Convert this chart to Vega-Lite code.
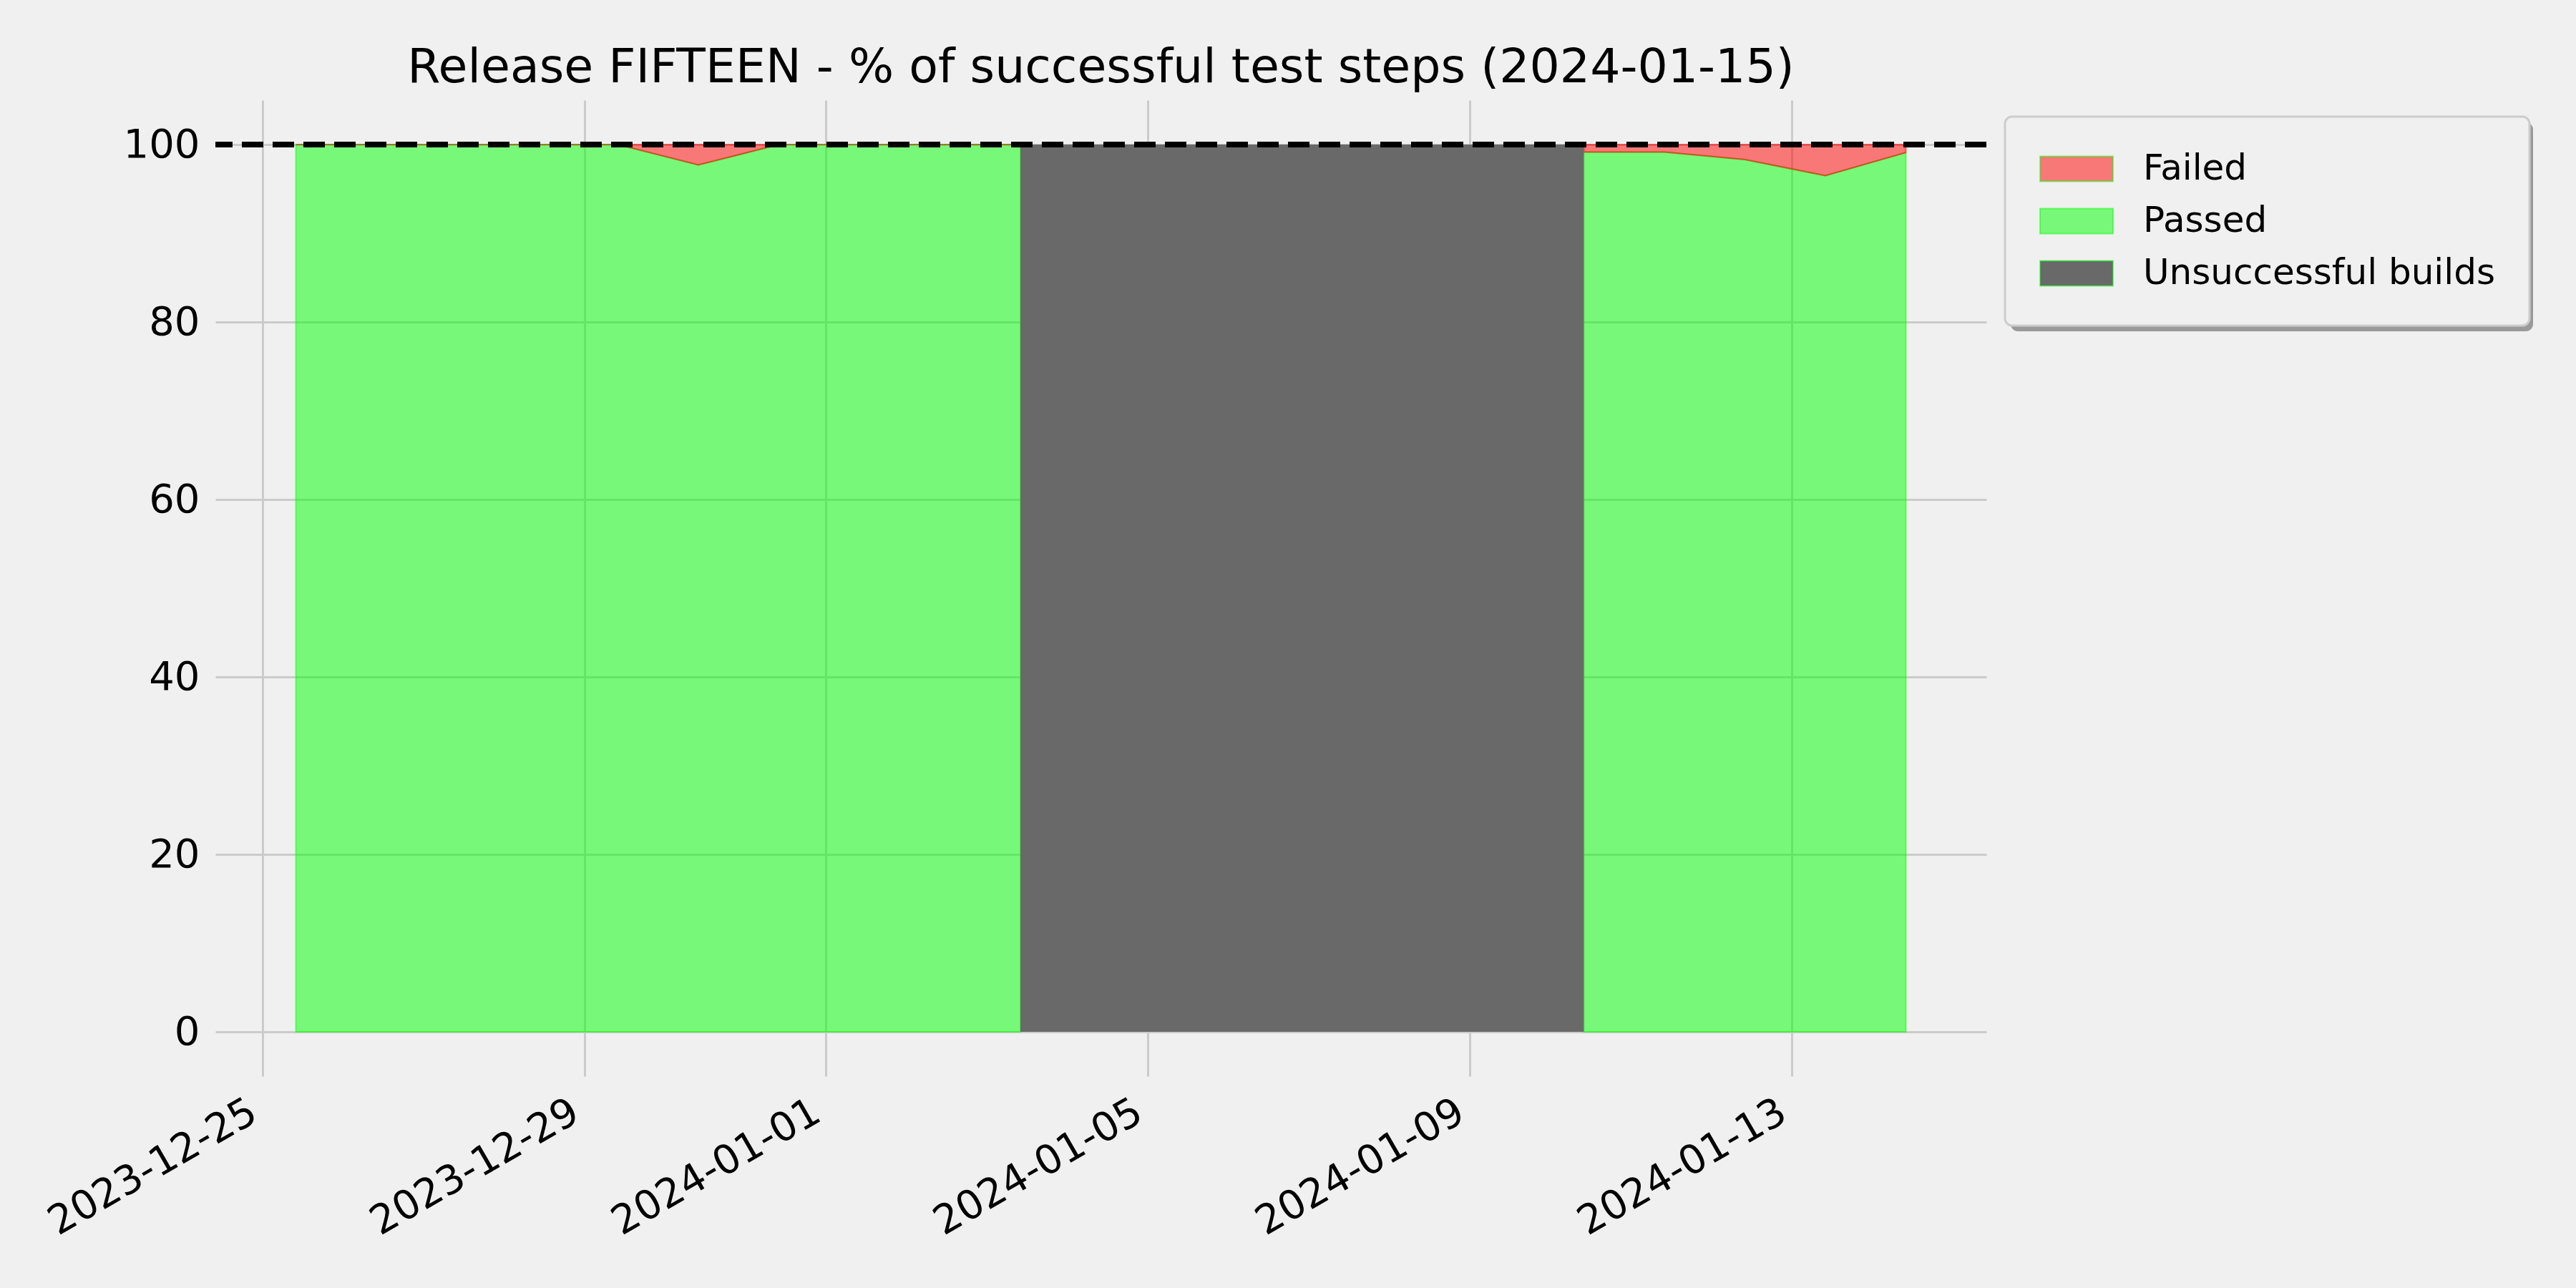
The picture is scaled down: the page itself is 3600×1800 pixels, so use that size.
{
  "$schema": "https://vega.github.io/schema/vega-lite/v6.json",
  "width": 2475,
  "height": 1364,
  "autosize": {"type": "none"},
  "padding": {"left": 301, "top": 140, "right": 824, "bottom": 296},
  "background": "#f0f0f0",
  "title": {
    "text": "Release FIFTEEN - % of successful test steps (2024-01-15)",
    "fontSize": 66.5,
    "font": "DejaVu Sans",
    "fontWeight": "normal",
    "color": "#000000",
    "anchor": "middle",
    "frame": "group",
    "baseline": "alphabetic",
    "offset": -41
  },
  "config": {
    "view": {"stroke": null},
    "axis": {
      "domain": false,
      "ticks": false,
      "grid": true,
      "gridColor": "#cbcbcb",
      "gridWidth": 3,
      "labelFont": "DejaVu Sans",
      "labelFontSize": 56,
      "labelColor": "#000000",
      "labelLimit": 1000,
      "title": null,
      "labelOverlap": false,
      "labelFlush": false,
      "labelBound": false
    },
    "legend": {
      "strokeWidth": 3
    }
  },
  "datasets": {
    "tests": [
      {"date": "2023-12-25T10:00:00Z", "seg": "a", "passed": 100},
      {"date": "2023-12-26T10:00:00Z", "seg": "a", "passed": 100},
      {"date": "2023-12-27T10:00:00Z", "seg": "a", "passed": 100},
      {"date": "2023-12-28T10:00:00Z", "seg": "a", "passed": 100},
      {"date": "2023-12-29T10:00:00Z", "seg": "a", "passed": 100},
      {"date": "2023-12-30T10:00:00Z", "seg": "a", "passed": 97.7},
      {"date": "2023-12-31T10:00:00Z", "seg": "a", "passed": 100},
      {"date": "2024-01-01T10:00:00Z", "seg": "a", "passed": 100},
      {"date": "2024-01-02T10:00:00Z", "seg": "a", "passed": 100},
      {"date": "2024-01-03T10:00:00Z", "seg": "a", "passed": 100},
      {"date": "2024-01-10T10:00:00Z", "seg": "b", "passed": 99.15},
      {"date": "2024-01-11T10:00:00Z", "seg": "b", "passed": 99.15},
      {"date": "2024-01-12T10:00:00Z", "seg": "b", "passed": 98.3},
      {"date": "2024-01-13T10:00:00Z", "seg": "b", "passed": 96.5},
      {"date": "2024-01-14T10:00:00Z", "seg": "b", "passed": 99.1}
    ],
    "builds": [
      {"start": "2024-01-03T10:00:00Z", "end": "2024-01-10T10:00:00Z", "low": 0, "high": 100}
    ],
    "target": [
      {"level": 100, "kind": "target"}
    ]
  },
  "layer": [
    {
      "data": {"name": "tests"},
      "mark": {"type": "area", "stroke": "rgba(0,255,0,0.5)", "strokeWidth": 2},
      "encoding": {
        "x": {
          "field": "date",
          "type": "temporal",
          "scale": {
            "type": "utc",
            "domain": [
              {"year": 2023, "month": 12, "date": 24, "hours": 10, "utc": true},
              {"year": 2024, "month": 1, "date": 15, "hours": 10, "utc": true}
            ]
          },
          "axis": {
            "values": [
              {"year": 2023, "month": 12, "date": 25, "utc": true},
              {"year": 2023, "month": 12, "date": 29, "utc": true},
              {"year": 2024, "month": 1, "date": 1, "utc": true},
              {"year": 2024, "month": 1, "date": 5, "utc": true},
              {"year": 2024, "month": 1, "date": 9, "utc": true},
              {"year": 2024, "month": 1, "date": 13, "utc": true}
            ],
            "format": "%Y-%m-%d",
            "labelAngle": -30,
            "labelAlign": "right",
            "labelBaseline": "top",
            "labelPadding": 22,
            "labelOffset": -26
          }
        },
        "y": {
          "field": "passed",
          "type": "quantitative",
          "stack": null,
          "scale": {"domain": [-5, 105], "nice": false, "zero": false},
          "axis": {"values": [0, 20, 40, 60, 80, 100], "labelPadding": 22}
        },
        "y2": {"datum": 0},
        "detail": {"field": "seg"},
        "color": {
          "datum": "Passed",
          "type": "nominal",
          "scale": {
            "domain": ["Failed", "Passed", "Unsuccessful builds"],
            "range": ["rgba(255,0,0,0.5)", "rgba(0,255,0,0.5)", "#696969"]
          },
          "legend": {
            "title": null,
            "orient": "none",
            "legendX": 2501,
            "legendY": 23,
            "zindex": 2,
            "padding": 48,
            "fillColor": "#f0f0f0",
            "strokeColor": "#cccccc",
            "cornerRadius": 10,
            "symbolType": "M-1,-0.343L1,-0.343L1,0.343L-1,0.343Z",
            "symbolSize": 10404,
            "clipHeight": 50,
            "rowPadding": 23,
            "labelOffset": 41,
            "labelFontSize": 50,
            "labelFont": "DejaVu Sans",
            "labelColor": "#000000",
            "labelLimit": 1000,
            "symbolOpacity": 1,
            "symbolStrokeWidth": 2,
            "encode": {
              "symbols": {"update": {"stroke": {"scale": "color", "field": "value"}}}
            }
          }
        }
      }
    },
    {
      "data": {"name": "tests"},
      "mark": {"type": "area", "stroke": "rgba(255,0,0,0.5)", "strokeWidth": 2},
      "encoding": {
        "x": {"field": "date", "type": "temporal"},
        "y": {"field": "passed", "type": "quantitative", "stack": null},
        "y2": {"datum": 100},
        "detail": {"field": "seg"},
        "color": {"datum": "Failed", "type": "nominal"}
      }
    },
    {
      "data": {"name": "builds"},
      "mark": {"type": "rect"},
      "encoding": {
        "x": {"field": "start", "type": "temporal"},
        "x2": {"field": "end"},
        "y": {"field": "low", "type": "quantitative"},
        "y2": {"field": "high"},
        "color": {"datum": "Unsuccessful builds", "type": "nominal"}
      }
    },
    {
      "data": {"name": "target"},
      "mark": {"type": "rule", "color": "#000000", "strokeWidth": 8, "strokeCap": "butt"},
      "encoding": {
        "y": {"field": "level", "type": "quantitative"},
        "strokeDash": {
          "field": "kind",
          "type": "nominal",
          "scale": {"range": [[30, 13]]},
          "legend": {
            "title": null,
            "orient": "none",
            "legendX": 2509,
            "legendY": 31,
            "zindex": 1,
            "padding": 48,
            "fillColor": "#9a9a9a",
            "strokeColor": "transparent",
            "cornerRadius": 10,
            "symbolSize": 100,
            "symbolOpacity": 0,
            "symbolStrokeColor": "transparent",
            "clipHeight": 196,
            "labelOffset": 619,
            "labelFontSize": 1,
            "labelColor": "transparent",
            "labelOpacity": 0
          }
        }
      }
    }
  ]
}
